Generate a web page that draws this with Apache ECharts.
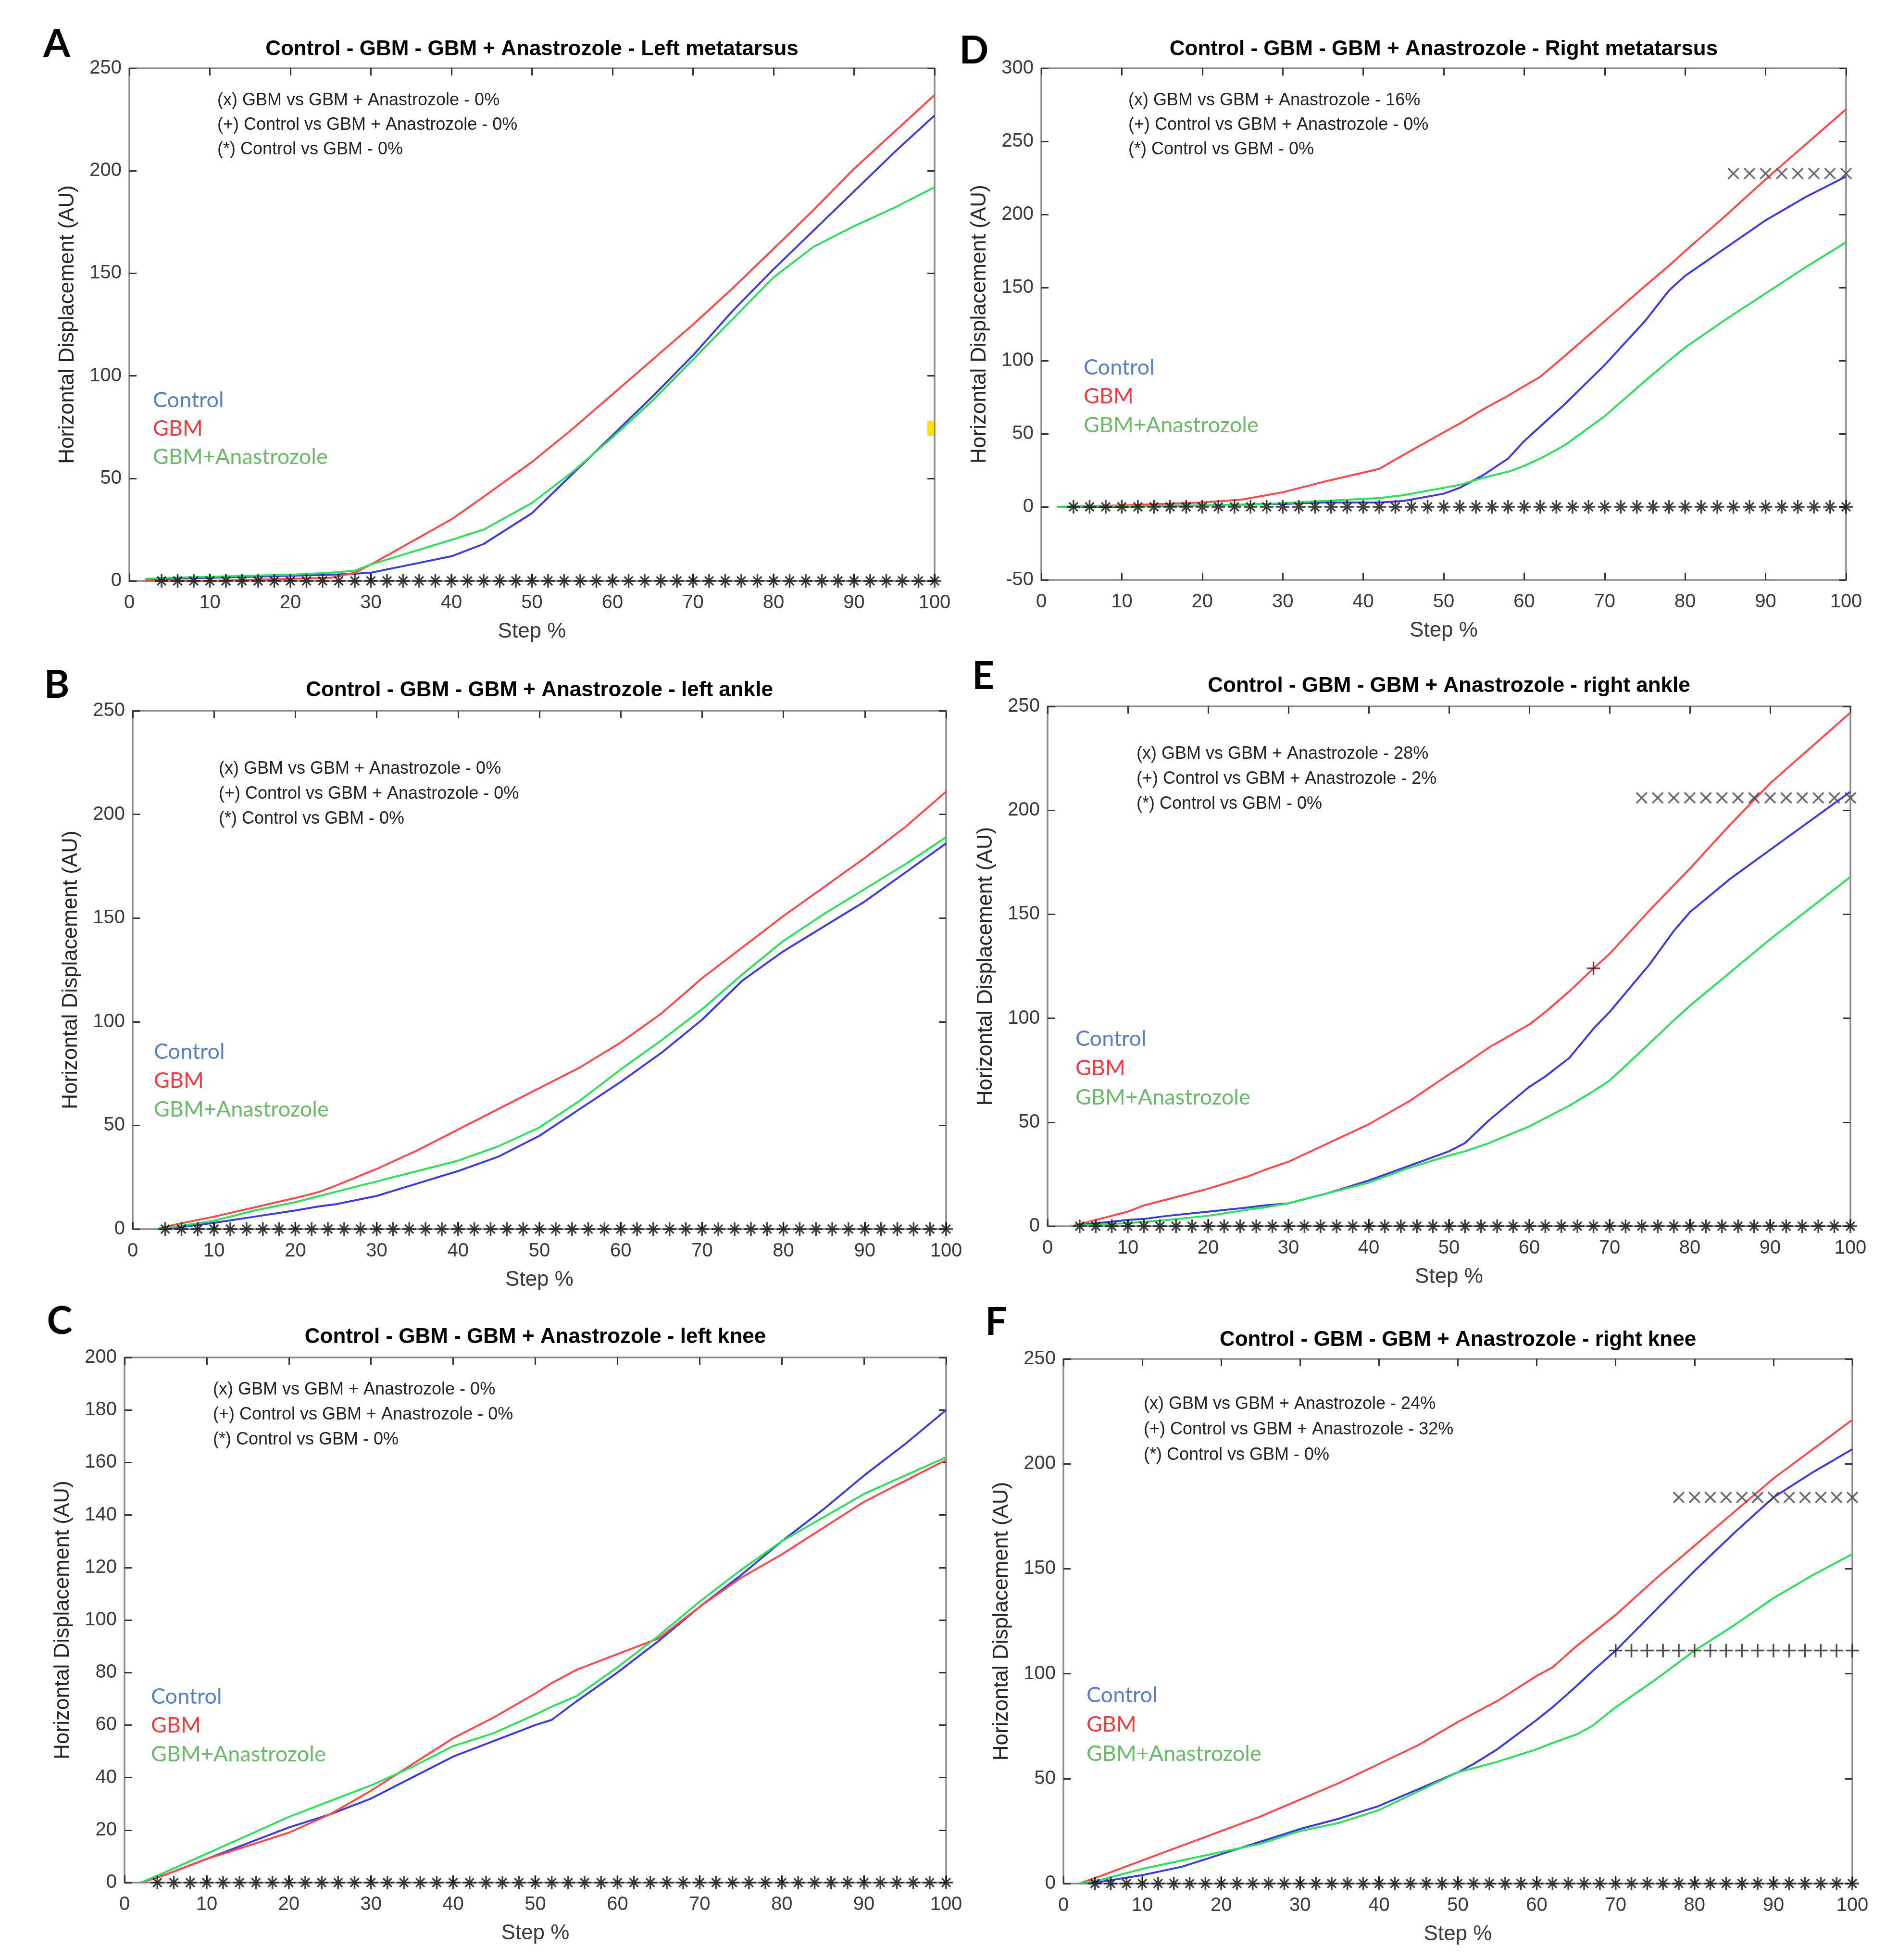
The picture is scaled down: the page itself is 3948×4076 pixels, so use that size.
<!DOCTYPE html>
<html>
<head>
<meta charset="utf-8">
<script src="https://cdn.jsdelivr.net/npm/echarts@6/dist/echarts.min.js"></script>
<style>html,body{margin:0;padding:0;background:#fff;}#c{width:3948px;height:4076px;}</style>
</head>
<body>
<div id="c"></div>
<script>
// ---------- DATA ----------
const seriesNames = ['Control', 'GBM', 'GBM+Anastrozole'];
const xTicks = [0, 10, 20, 30, 40, 50, 60, 70, 80, 90, 100];

// Panel A - Left metatarsus
const stepsA   = [2, 5, 10, 15, 20, 25, 28, 30, 35, 40, 44, 50, 55, 60, 65, 70, 75, 80, 85, 90, 95, 100];
const controlA = [0.5, 1, 1.5, 2, 2.5, 3, 3.5, 4, 8, 12, 18, 33, 52, 71, 90, 110, 132, 152, 171, 190, 209, 227];
const gbmA     = [0, 0, 0, 0.5, 1, 1.5, 4, 8, 19, 30, 41, 58, 74, 91, 108, 125, 143, 162, 181, 201, 219, 237];
const anaA     = [1, 1.5, 2, 2.5, 3, 4, 5, 8, 14, 20, 25, 38, 53, 70, 88, 108, 128, 148, 163, 173, 182, 192];
const notesA   = ['(x) GBM vs GBM + Anastrozole - 0%', '(+) Control vs GBM + Anastrozole - 0%', '(*) Control vs GBM - 0%'];

// Panel D - Right metatarsus
const stepsD   = [2, 10, 20, 25, 28, 30, 35, 42, 45, 50, 52, 55, 58, 60, 62, 65, 70, 75, 78, 80, 85, 90, 95, 100];
const controlD = [0, 0, 1, 1.5, 2, 2, 3, 3, 4, 9, 13, 22, 33, 45, 55, 70, 97, 127, 148, 158, 177, 196, 212, 226];
const gbmD     = [0, 1, 3, 5, 8, 10, 17, 26, 35.5, 51, 57, 67, 76, 82.6, 89, 103, 127, 151, 165, 175, 199, 224, 248, 272];
const anaD     = [0, 0.5, 1, 1.5, 2, 2.5, 4, 6, 8, 13, 15, 20, 24, 28, 33, 42, 62, 86, 100, 109, 128, 146, 164, 181];
const notesD   = ['(x) GBM vs GBM + Anastrozole - 16%', '(+) Control vs GBM + Anastrozole - 0%', '(*) Control vs GBM - 0%'];
const xMarkStepsD = [86, 88, 90, 92, 94, 96, 98, 100];
const xMarkLevelD = 228;

// Panel B - left ankle
const stepsB   = [3, 5, 10, 15, 20, 23, 25, 30, 35, 40, 45, 50, 55, 60, 65, 70, 75, 80, 85, 90, 95, 100];
const controlB = [0, 0.5, 3, 6, 9, 11, 12, 16, 22, 28, 35, 45, 58, 71, 85, 101, 120, 134, 146, 158, 172, 186];
const gbmB     = [0, 2, 6, 10.5, 15, 18, 21, 29, 38, 48, 58, 68, 78, 90, 104, 121, 136, 151, 165, 179, 194, 211];
const anaB     = [0, 1, 4, 9, 13, 16, 18, 23, 28, 33, 40, 49, 62, 77, 91, 106, 123, 139, 152, 164, 176, 189];
const notesB   = ['(x) GBM vs GBM + Anastrozole - 0%', '(+) Control vs GBM + Anastrozole - 0%', '(*) Control vs GBM - 0%'];

// Panel E - right ankle
const stepsE   = [3, 5, 10, 12, 15, 20, 25, 27, 30, 35, 40, 45, 50, 52, 55, 60, 62, 65, 68, 70, 75, 78, 80, 85, 90, 95, 100];
const controlE = [0, 1, 3, 3.5, 5, 7, 9, 10, 11, 16, 22, 29, 36, 40, 51, 67, 72, 81, 95, 103, 126, 142, 151, 167, 181, 195, 209];
const gbmE     = [0, 2, 7, 10, 13, 18, 24, 27, 31, 40, 49, 60, 73, 78, 86, 97, 103, 113, 124, 131, 152, 164, 172, 193, 213, 230, 247];
const anaE     = [0, 0.5, 1.5, 2, 3, 5, 8, 9, 11, 16, 21, 28, 34, 36, 40, 48, 52, 58, 65, 70, 88, 99, 106, 122, 138, 153, 168];
const notesE   = ['(x) GBM vs GBM + Anastrozole - 28%', '(+) Control vs GBM + Anastrozole - 2%', '(*) Control vs GBM - 0%'];
const xMarkStepsE = [74, 76, 78, 80, 82, 84, 86, 88, 90, 92, 94, 96, 98, 100];
const xMarkLevelE = 206;
const plusStepsE = [68];
const plusLevelE = 124;

// Panel C - left knee
const stepsC   = [2, 5, 10, 15, 20, 25, 30, 35, 40, 45, 50, 52, 55, 60, 65, 70, 75, 80, 85, 90, 95, 100];
const controlC = [0, 3, 9, 15, 21, 26, 32, 40, 48, 54, 60, 62, 69, 80, 92, 105, 117, 130, 142, 155, 167, 180];
const gbmC     = [0, 3, 9, 14, 19, 26, 35, 45, 55, 63, 72, 76, 81, 87, 93, 105, 116, 125, 135, 145, 153, 161];
const anaC     = [0, 4, 11, 18, 25, 31, 37, 44, 52, 57, 64, 67, 71, 82, 94, 107, 119, 130, 139, 148, 155, 162];
const notesC   = ['(x) GBM vs GBM + Anastrozole - 0%', '(+) Control vs GBM + Anastrozole - 0%', '(*) Control vs GBM - 0%'];

// Panel F - right knee
const stepsF   = [2, 5, 10, 15, 20, 25, 30, 35, 40, 45, 50, 52, 55, 60, 62, 65, 67, 70, 75, 80, 85, 90, 95, 100];
const controlF = [0, 1, 4, 8, 14, 20, 26, 31, 37, 45, 53, 57, 64, 78, 84, 94, 101, 111, 130, 149, 167, 184, 196, 207];
const gbmF     = [0, 4, 11, 18, 25, 32, 40, 48, 57, 66, 77, 81, 87, 99, 103, 113, 119, 128, 145, 161, 177, 193, 207, 221];
const anaF     = [0, 2, 7, 11, 15, 19, 25, 29, 35, 44, 53, 55, 58, 64, 67, 71, 75, 84, 97, 111, 123, 136, 147, 157];
const notesF   = ['(x) GBM vs GBM + Anastrozole - 24%', '(+) Control vs GBM + Anastrozole - 32%', '(*) Control vs GBM - 0%'];
const xMarkStepsF = [78, 80, 82, 84, 86, 88, 90, 92, 94, 96, 98, 100];
const xMarkLevelF = 184;
const plusStepsF = [70, 72, 74, 76, 78, 80, 82, 84, 86, 88, 90, 92, 94, 96, 98, 100];
const plusLevelF = 111;

// (*) Control vs GBM markers (all panels at 0)
const starSteps = [4, 6, 8, 10, 12, 14, 16, 18, 20, 22, 24, 26, 28, 30, 32, 34, 36, 38, 40, 42, 44, 46, 48, 50,
  52, 54, 56, 58, 60, 62, 64, 66, 68, 70, 72, 74, 76, 78, 80, 82, 84, 86, 88, 90, 92, 94, 96, 98, 100];
const starLevel = 0;

// ---------- LAYOUT ----------
const panels = [
  {letter: 'A', title: 'Control - GBM - GBM + Anastrozole - Left metatarsus', steps: stepsA, c: controlA, g: gbmA, a: anaA, notes: notesA,
   yMin: 0, yMax: 250, yInt: 50, grid: {left: 269, top: 142, width: 1675, height: 1066},
   letterPos: [118, 92], titleY: 103, notePos: [452, 209, 51], legPos: [318, 832, 59]},
  {letter: 'D', title: 'Control - GBM - GBM + Anastrozole - Right metatarsus', steps: stepsD, c: controlD, g: gbmD, a: anaD, notes: notesD,
   yMin: -50, yMax: 300, yInt: 50, grid: {left: 2166, top: 142, width: 1674, height: 1064},
   letterPos: [2026, 106], titleY: 103, notePos: [2347, 209, 51], legPos: [2254, 764, 60],
   xMarks: {steps: xMarkStepsD, level: xMarkLevelD}},
  {letter: 'B', title: 'Control - GBM - GBM + Anastrozole - left ankle', steps: stepsB, c: controlB, g: gbmB, a: anaB, notes: notesB,
   yMin: 0, yMax: 250, yInt: 50, grid: {left: 276, top: 1478, width: 1692, height: 1078},
   letterPos: [118, 1425], titleY: 1436, notePos: [455, 1599, 52], legPos: [320, 2187, 60]},
  {letter: 'E', title: 'Control - GBM - GBM + Anastrozole - right ankle', steps: stepsE, c: controlE, g: gbmE, a: anaE, notes: notesE,
   yMin: 0, yMax: 250, yInt: 50, grid: {left: 2179, top: 1469, width: 1670, height: 1081},
   letterPos: [2045, 1407], titleY: 1427, notePos: [2364, 1568, 52], legPos: [2237, 2160, 61],
   xMarks: {steps: xMarkStepsE, level: xMarkLevelE}, plusMarks: {steps: plusStepsE, level: plusLevelE}},
  {letter: 'C', title: 'Control - GBM - GBM + Anastrozole - left knee', steps: stepsC, c: controlC, g: gbmC, a: anaC, notes: notesC,
   yMin: 0, yMax: 200, yInt: 20, grid: {left: 259, top: 2823, width: 1709, height: 1092},
   letterPos: [124, 2748], titleY: 2781, notePos: [443, 2890, 52], legPos: [314, 3528, 60]},
  {letter: 'F', title: 'Control - GBM - GBM + Anastrozole - right knee', steps: stepsF, c: controlF, g: gbmF, a: anaF, notes: notesF,
   yMin: 0, yMax: 250, yInt: 50, grid: {left: 2212, top: 2826, width: 1641, height: 1091},
   letterPos: [2072, 2750], titleY: 2787, notePos: [2379, 2920, 53], legPos: [2260, 3525, 61],
   xMarks: {steps: xMarkStepsF, level: xMarkLevelF}, plusMarks: {steps: plusStepsF, level: plusLevelF}}
];

const lineColors = ['#3c3cdc', '#ff4b4b', '#2ede5c'];
const legendColors = ['#5a7fc0', '#ec3a3f', '#6cb86a'];
const FONT = "'Liberation Sans', Arial, Helvetica, sans-serif";
const LEGFONT = "Lato, 'Open Sans', sans-serif";

const SYM_STAR = 'path://M0,5L10,5M5,0L5,10M1.8,1.8L8.2,8.2M8.2,1.8L1.8,8.2';
const SYM_X = 'path://M0,0L10,10M10,0L0,10';
const SYM_PLUS = 'path://M0,5L10,5M5,0L5,10';

const grids = [], xAxes = [], yAxes = [], series = [], graphics = [];

function zipXY(xs, ys) { return xs.map((x, i) => [x, ys[i]]); }
function level(xs, y) { return xs.map(x => [x, y]); }

panels.forEach((p, i) => {
  grids.push(Object.assign({containLabel: false}, p.grid));
  const axLine = {show: true, onZero: false, lineStyle: {color: '#8a8a8a', width: 3.5}};
  const tick = {show: true, inside: true, length: 15, lineStyle: {color: '#333', width: 3}};
  const baseX = {type: 'value', gridIndex: i, min: 0, max: 100, interval: 10, splitLine: {show: false}, axisLine: axLine, axisTick: tick};
  xAxes.push(Object.assign({}, baseX, {
    position: 'bottom',
    axisLabel: {fontFamily: FONT, fontSize: 40, color: '#3a3a3a', margin: 26},
    name: 'Step %', nameLocation: 'middle', nameGap: 84,
    nameTextStyle: {fontFamily: FONT, fontSize: 44, color: '#3a3a3a'}
  }));
  xAxes.push(Object.assign({}, baseX, {position: 'top', axisLabel: {show: false}}));
  const baseY = {type: 'value', gridIndex: i, min: p.yMin, max: p.yMax, interval: p.yInt, splitLine: {show: false}, axisLine: axLine, axisTick: tick};
  yAxes.push(Object.assign({}, baseY, {
    position: 'left',
    axisLabel: {fontFamily: FONT, fontSize: 40, color: '#3a3a3a', margin: 16},
    name: 'Horizontal Displacement (AU)', nameLocation: 'middle', nameGap: 106,
    nameTextStyle: {fontFamily: FONT, fontSize: 44, color: '#262626'}
  }));
  yAxes.push(Object.assign({}, baseY, {position: 'right', axisLabel: {show: false}}));

  const xi = 2 * i, yi = 2 * i;
  [p.c, p.g, p.a].forEach((vals, k) => {
    series.push({
      type: 'line', name: seriesNames[k], xAxisIndex: xi, yAxisIndex: yi,
      data: zipXY(p.steps, vals), showSymbol: false, symbol: 'none',
      lineStyle: {color: lineColors[k], width: 4}, animation: false, z: 2
    });
  });
  series.push({
    type: 'scatter', name: '(*) Control vs GBM', xAxisIndex: xi, yAxisIndex: yi,
    data: level(starSteps, starLevel), symbol: SYM_STAR, symbolSize: 28,
    itemStyle: {color: 'rgba(0,0,0,0)', borderColor: '#111', borderWidth: 3.5}, animation: false, z: 5
  });
  if (p.xMarks) {
    series.push({
      type: 'scatter', name: '(x) GBM vs GBM + Anastrozole', xAxisIndex: xi, yAxisIndex: yi,
      data: level(p.xMarks.steps, p.xMarks.level), symbol: SYM_X, symbolSize: 22,
      itemStyle: {color: 'rgba(0,0,0,0)', borderColor: '#444', borderWidth: 3.5}, animation: false, z: 5
    });
  }
  if (p.plusMarks) {
    series.push({
      type: 'scatter', name: '(+) Control vs GBM + Anastrozole', xAxisIndex: xi, yAxisIndex: yi,
      data: level(p.plusMarks.steps, p.plusMarks.level), symbol: SYM_PLUS, symbolSize: 28,
      itemStyle: {color: 'rgba(0,0,0,0)', borderColor: '#222', borderWidth: 3.5}, animation: false, z: 5
    });
  }

  // panel letter
  graphics.push({type: 'text', x: p.letterPos[0], y: p.letterPos[1],
    style: {text: p.letter, font: "bold 80px " + LEGFONT, fill: '#000', align: 'center', verticalAlign: 'middle'}});
  // title
  graphics.push({type: 'text', x: p.grid.left + p.grid.width / 2, y: p.titleY,
    style: {text: p.title, font: "bold 44px " + FONT, fill: '#000', align: 'center', verticalAlign: 'middle'}});
  // notes
  p.notes.forEach((t, k) => {
    graphics.push({type: 'text', x: p.notePos[0], y: p.notePos[1] + k * p.notePos[2],
      style: {text: t, font: "36px " + FONT, fill: '#222', align: 'left', verticalAlign: 'middle'}});
  });
  // legend text
  seriesNames.forEach((t, k) => {
    graphics.push({type: 'text', x: p.legPos[0], y: p.legPos[1] + k * p.legPos[2],
      style: {text: t, font: "45px " + LEGFONT, fill: legendColors[k], align: 'left', verticalAlign: 'middle'}});
  });
});

// small yellow artifact on right border of panel A
graphics.push({type: 'rect', shape: {x: 1929, y: 875, width: 14, height: 32}, style: {fill: '#ffe100'}, z: 10});

const chart = echarts.init(document.getElementById('c'), null, {renderer: 'canvas', width: 3948, height: 4076});
chart.setOption({
  backgroundColor: '#ffffff',
  animation: false,
  grid: grids,
  xAxis: xAxes,
  yAxis: yAxes,
  series: series,
  graphic: graphics
});
</script>
</body>
</html>
